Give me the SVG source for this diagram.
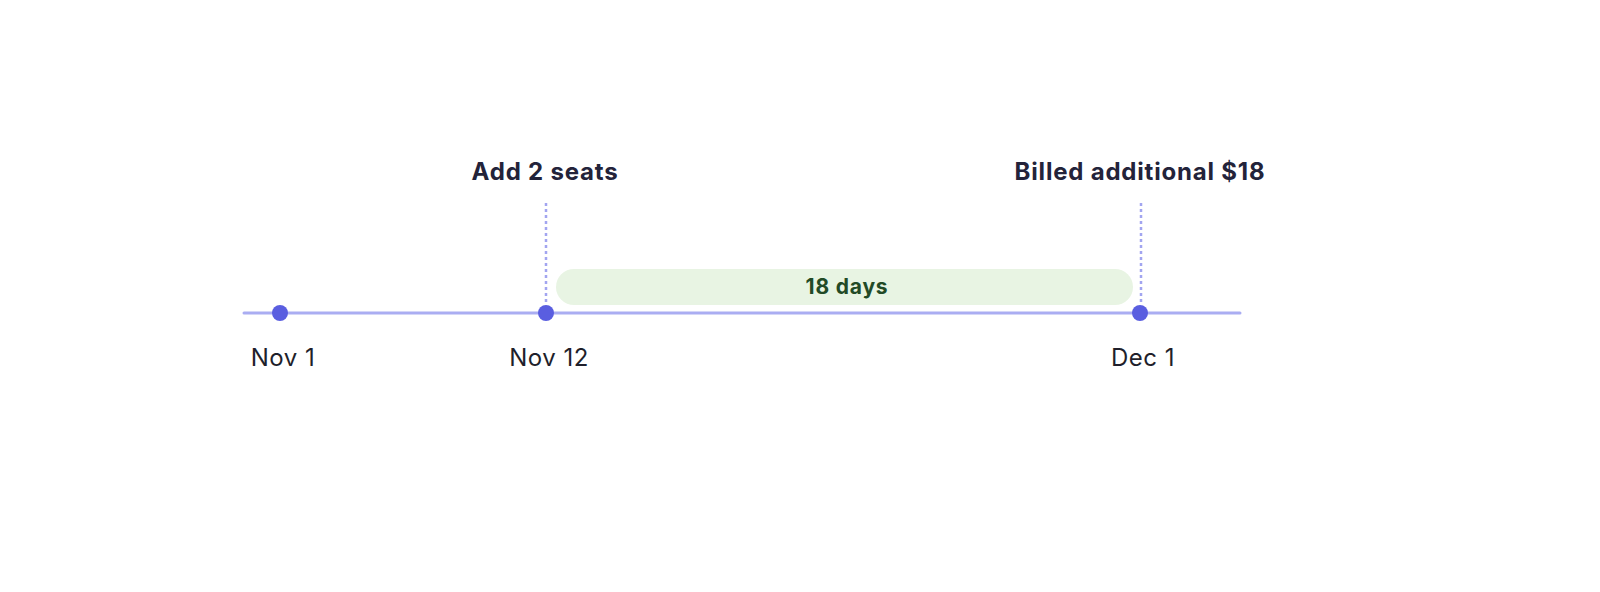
<svg xmlns="http://www.w3.org/2000/svg" width="1600" height="592" viewBox="0 0 1600 592">
<style>
.lbl{font-family:Inter,"Noto Sans",sans-serif;font-size:24px;letter-spacing:0.5px;fill:#1f1f2b}
.b{font-weight:700;fill:#23233a;letter-spacing:0.8px}
.dot{fill:#5a5ee0}
.guide{stroke:#a2a5f0;stroke-width:2.5;stroke-dasharray:3 3}
</style>
<rect width="1600" height="592" fill="#fff"/>
<g id="connectors">
<line x1="244" y1="313" x2="1240" y2="313" stroke="#aaadf2" stroke-width="3" stroke-linecap="round"/>
<line class="guide" x1="546" y1="203" x2="546" y2="305"/>
<line class="guide" x1="1141" y1="203" x2="1141" y2="305"/>
</g>
<g id="span">
<rect x="556" y="269" width="577" height="36" rx="18" fill="#e8f4e3"/>
<text x="847" y="294" text-anchor="middle" font-family="Inter,'Noto Sans',sans-serif" font-size="21" font-weight="700" letter-spacing="0.8" fill="#224a26">18 days</text>
</g>
<g id="nov1"><circle class="dot" cx="280" cy="313" r="8"/><text class="lbl" x="283" y="366" text-anchor="middle">Nov 1</text></g>
<g id="nov12"><circle class="dot" cx="546" cy="313" r="8"/><text class="lbl" x="549" y="366" text-anchor="middle">Nov 12</text><text class="lbl b" x="545" y="180" text-anchor="middle">Add 2 seats</text></g>
<g id="dec1"><circle class="dot" cx="1140" cy="313" r="8"/><text class="lbl" x="1143" y="366" text-anchor="middle">Dec 1</text><text class="lbl b" x="1140" y="180" text-anchor="middle">Billed additional $18</text></g>
</svg>
